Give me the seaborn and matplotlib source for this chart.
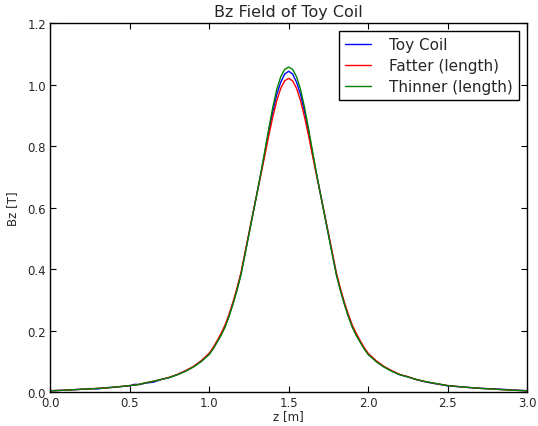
import numpy as np
import pandas as pd
import matplotlib
matplotlib.use("Agg")
import matplotlib.pyplot as plt
import seaborn as sns

# ---- data ----
z = [0.0, 0.1, 0.2, 0.25, 0.3, 0.35, 0.4, 0.45, 0.5, 0.53, 0.56, 0.6, 0.65, 0.7,
     0.75, 0.8, 0.85, 0.9, 0.95, 1.0, 1.025, 1.05, 1.075, 1.1, 1.125, 1.15,
     1.175, 1.2, 1.225, 1.25, 1.275, 1.3, 1.325, 1.35, 1.375, 1.4, 1.425, 1.45,
     1.475, 1.5, 1.525, 1.55, 1.575, 1.6, 1.625, 1.65, 1.675, 1.7, 1.725, 1.75,
     1.775, 1.8, 1.825, 1.85, 1.875, 1.9, 1.925, 1.95, 1.975, 2.0, 2.05, 2.1,
     2.15, 2.2, 2.25, 2.3, 2.35, 2.4, 2.5, 2.6, 2.7, 2.8, 2.9, 3.0]

toy_coil = [0.005, 0.007, 0.010, 0.012, 0.011, 0.015, 0.016, 0.019, 0.021, 0.026,
            0.025, 0.030, 0.033, 0.042, 0.048, 0.058, 0.069, 0.083, 0.101, 0.125,
            0.143, 0.165, 0.188, 0.215, 0.250, 0.290, 0.335, 0.385, 0.450, 0.515,
            0.580, 0.645, 0.710, 0.778, 0.848, 0.912, 0.968, 1.008, 1.035, 1.044,
            1.035, 1.008, 0.968, 0.912, 0.848, 0.778, 0.710, 0.645, 0.580, 0.515,
            0.450, 0.385, 0.335, 0.290, 0.250, 0.215, 0.188, 0.165, 0.143, 0.125,
            0.101, 0.083, 0.069, 0.057, 0.050, 0.042, 0.035, 0.030, 0.021, 0.017,
            0.013, 0.011, 0.008, 0.005]

fatter = [0.005, 0.007, 0.010, 0.011, 0.013, 0.014, 0.017, 0.019, 0.022, 0.023,
          0.026, 0.031, 0.036, 0.042, 0.049, 0.058, 0.070, 0.084, 0.103, 0.127,
          0.146, 0.168, 0.192, 0.219, 0.254, 0.294, 0.339, 0.389, 0.454, 0.518,
          0.582, 0.645, 0.707, 0.770, 0.835, 0.895, 0.948, 0.988, 1.013, 1.021,
          1.013, 0.988, 0.948, 0.895, 0.835, 0.770, 0.707, 0.645, 0.582, 0.518,
          0.454, 0.389, 0.339, 0.294, 0.254, 0.219, 0.192, 0.168, 0.146, 0.127,
          0.103, 0.084, 0.070, 0.058, 0.051, 0.042, 0.036, 0.031, 0.022, 0.017,
          0.013, 0.010, 0.007, 0.005]

thinner = [0.005, 0.007, 0.010, 0.011, 0.013, 0.014, 0.017, 0.019, 0.022, 0.023,
           0.026, 0.031, 0.036, 0.042, 0.048, 0.057, 0.068, 0.082, 0.100, 0.123,
           0.141, 0.163, 0.185, 0.212, 0.247, 0.287, 0.332, 0.382, 0.447, 0.513,
           0.579, 0.645, 0.713, 0.785, 0.858, 0.926, 0.985, 1.026, 1.050, 1.058,
           1.050, 1.026, 0.985, 0.926, 0.858, 0.785, 0.713, 0.645, 0.579, 0.513,
           0.447, 0.382, 0.332, 0.287, 0.247, 0.212, 0.185, 0.163, 0.141, 0.123,
           0.100, 0.082, 0.068, 0.057, 0.050, 0.042, 0.036, 0.031, 0.022, 0.017,
           0.013, 0.010, 0.007, 0.005]

series_names = ["Toy Coil", "Fatter (length)", "Thinner (length)"]
colors = ["#0000ff", "#ff0000", "#008000"]

frames = []
for name, vals in zip(series_names, [toy_coil, fatter, thinner]):
    frames.append(pd.DataFrame({"z": z, "Bz": vals, "series": name}))
df = pd.concat(frames, ignore_index=True)

sns.set_style("ticks")
plt.rcParams["font.family"] = ["DejaVu Sans"]
plt.rcParams["xtick.direction"] = "in"
plt.rcParams["ytick.direction"] = "in"

fig = plt.figure(figsize=(5.38, 4.27), dpi=100)
ax = fig.add_axes([50.3 / 538, 1 - 393.3 / 427, (527 - 50.3) / 538, (393.3 - 24.3) / 427])

sns.lineplot(data=df, x="z", y="Bz", hue="series", palette=dict(zip(series_names, colors)),
             hue_order=series_names, linewidth=1.0, ax=ax, sort=False, estimator=None)

ax.set_xlim(0, 3.0)
ax.set_ylim(0, 1.2)
ax.set_xticks([0.0, 0.5, 1.0, 1.5, 2.0, 2.5, 3.0])
ax.set_yticks([0.0, 0.2, 0.4, 0.6, 0.8, 1.0, 1.2])
ax.xaxis.set_major_formatter(matplotlib.ticker.FormatStrFormatter("%.1f"))
ax.yaxis.set_major_formatter(matplotlib.ticker.FormatStrFormatter("%.1f"))
ax.tick_params(axis="both", which="major", direction="in", length=4, width=0.8,
               labelsize=8.5, top=True, right=True, pad=3, color="black")
for s in ax.spines.values():
    s.set_visible(True)
    s.set_color("black")
    s.set_linewidth(1.0)

ax.set_title("Bz Field of Toy Coil", fontsize=11.5, pad=5)
ax.set_xlabel("z [m]", fontsize=8.5, labelpad=0)
ax.set_ylabel("Bz [T]", fontsize=8.5, labelpad=6)

leg = ax.legend(loc="upper right", fontsize=11, frameon=True, fancybox=False,
                edgecolor="black", framealpha=1.0, handlelength=1.7, borderpad=0.4,
                labelspacing=0.4, handletextpad=1.2, borderaxespad=0.5)
leg.get_frame().set_linewidth(1.0)

fig.savefig("out.png", dpi=100)
